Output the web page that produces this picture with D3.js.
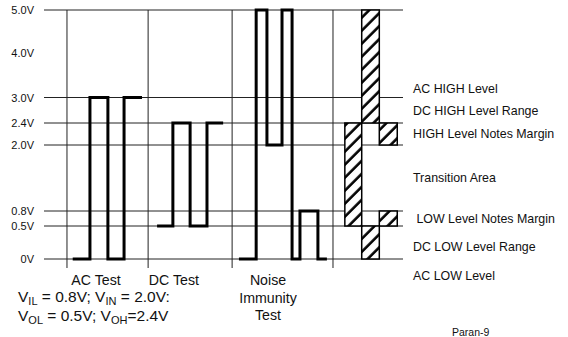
<!DOCTYPE html>
<html>
<head>
<meta charset="utf-8">
<script src="https://cdn.jsdelivr.net/npm/d3@7"></script>
<style>
  html, body { margin: 0; padding: 0; background: #fff; }
  svg { display: block; font-family: "Liberation Sans", Arial, Helvetica, sans-serif; }
</style>
</head>
<body>
<svg id="chart" width="568" height="337"></svg>
<script>
// ---- data ----
const voltTicks  = [0, 0.5, 0.8, 2.0, 2.4, 3.0, 4.0, 5.0];
const voltLabels = ["0V", "0.5V", "0.8V", "2.0V", "2.4V", "3.0V", "4.0V", "5.0V"];
const gridVolts  = [0, 0.5, 0.8, 2.0, 2.4, 3.0, 5.0];

// time positions of column dividers
const dividers = [6.4, 29, 52.4, 80.5];

// waveforms: level changes (time, volts), drawn as steps
const acTimes    = [8, 12.8, 17.8, 22.3, 27.3];
const acVolts    = [0, 3.0, 0, 3.0, 3.0];
const dcTimes    = [31.5, 35.9, 40.7, 45.4, 49.9];
const dcVolts    = [0.5, 2.4, 0.5, 2.4, 2.4];
const noiseTimes = [54.3, 59.1, 62.1, 66.3, 69.1, 71.3, 76.3, 78.8];
const noiseVolts = [0, 5.0, 2.0, 5.0, 0, 0.8, 0, 0];

// hatched level bars
const barT0 = [88.5, 93.4, 83.8, 93.4, 88.5];
const barT1 = [93.4, 98.4, 88.5, 98.4, 93.4];
const barV0 = [2.4, 2.0, 0.5, 0.5, 0];
const barV1 = [5.0, 2.4, 2.4, 0.8, 0.5];

// right side level names
const levelNames = ["AC HIGH Level", "DC HIGH Level Range", "HIGH Level Notes Margin",
                    "Transition Area", " LOW Level Notes Margin", "DC LOW Level Range", "AC LOW Level"];
const levelNameV = [3.2, 2.7, 2.2, 1.4, 0.65, 0.18, -0.25];

// column titles
const colTitles = [["AC Test"], ["DC Test"], ["Noise", "Immunity", "Test"]];
const colCenter = [14.5, 36.2, 62.4];

// ---- scales ----
const svg = d3.select("#chart");
const y = d3.scaleLinear().domain(voltTicks).range([259, 226, 211, 145, 123, 97.5, 53, 10]);
const x = d3.scaleLinear().domain([0, 100]).range([44, 403]);

// ---- hatch pattern ----
const defs = svg.append("defs");
const pat = defs.append("pattern")
  .attr("id", "hatch").attr("patternUnits", "userSpaceOnUse")
  .attr("width", 9.2).attr("height", 9.2)
  .attr("patternTransform", "rotate(45)");
pat.append("rect").attr("width", 9.2).attr("height", 9.2).attr("fill", "#fff");
pat.append("line").attr("x1", 1.5).attr("x2", 1.5).attr("y1", 0).attr("y2", 9.2)
  .attr("stroke", "#000").attr("stroke-width", 2.6);

// ---- gridlines ----
svg.append("g").selectAll("line").data(gridVolts).join("line")
  .attr("x1", x(0)).attr("x2", x(100))
  .attr("y1", d => y(d)).attr("y2", d => y(d))
  .attr("stroke", "#222").attr("stroke-width", 1);

svg.append("g").selectAll("line").data(dividers).join("line")
  .attr("x1", d => x(d)).attr("x2", d => x(d))
  .attr("y1", y(5)).attr("y2", y(0) + 9)
  .attr("stroke", "#222").attr("stroke-width", 1);

// ---- left axis labels ----
const axis = d3.axisLeft(y).tickValues(voltTicks)
  .tickFormat((d, i) => voltLabels[i]).tickSize(0).tickPadding(3);
const ag = svg.append("g").attr("transform", "translate(37,0)").call(axis);
ag.select(".domain").remove();
ag.selectAll("text").attr("font-size", 11).attr("fill", "#111")
  .attr("font-family", "'Liberation Sans', Arial, sans-serif");

// ---- hatched bars ----
svg.append("g").selectAll("rect").data(barT0).join("rect")
  .attr("x", (d, i) => x(barT0[i]))
  .attr("width", (d, i) => x(barT1[i]) - x(barT0[i]))
  .attr("y", (d, i) => y(barV1[i]))
  .attr("height", (d, i) => y(barV0[i]) - y(barV1[i]))
  .attr("fill", "url(#hatch)").attr("stroke", "#000").attr("stroke-width", 1.5);

// ---- waveforms ----
const step = d3.line().x(d => x(d[0])).y(d => y(d[1])).curve(d3.curveStepAfter);
[[acTimes, acVolts], [dcTimes, dcVolts], [noiseTimes, noiseVolts]].forEach(([t, v]) => {
  svg.append("path").datum(t.map((tt, i) => [tt, v[i]]))
    .attr("d", step).attr("fill", "none").attr("stroke", "#000")
    .attr("stroke-width", 3).attr("stroke-linejoin", "miter");
});

// ---- right labels ----
svg.append("g").selectAll("text").data(levelNames).join("text")
  .attr("x", x(100) + 10)
  .attr("y", (d, i) => y(levelNameV[i]))
  .attr("dy", "0.35em")
  .attr("font-size", 12.4).attr("fill", "#111")
  .attr("xml:space", "preserve")
  .style("white-space", "pre")
  .text(d => d);

// ---- column titles ----
colTitles.forEach((lines, ci) => {
  svg.append("text").attr("text-anchor", "middle").attr("font-size", 14.2).attr("fill", "#111")
    .selectAll("tspan").data(lines).join("tspan")
    .attr("x", x(colCenter[ci]))
    .attr("y", (d, i) => 285 + i * 17.5)
    .text(d => d);
});

// ---- bottom-left note ----
const noteLines = [
  [["V", 0], ["IL", 1], [" = 0.8V; V", 0], ["IN", 1], [" = 2.0V:", 0]],
  [["V", 0], ["OL", 1], [" = 0.5V; V", 0], ["OH", 1], ["=2.4V", 0]]
];
noteLines.forEach((parts, li) => {
  const t = svg.append("text").attr("x", 18).attr("y", 302 + li * 19)
    .attr("font-size", 15.5).attr("fill", "#111").attr("xml:space", "preserve")
    .style("white-space", "pre");
  let prevSub = 0;
  parts.forEach(([s, sub]) => {
    t.append("tspan")
      .attr("dy", (sub - prevSub) * 2.5)
      .attr("font-size", sub ? 11 : 15.5)
      .text(s);
    prevSub = sub;
  });
});

// ---- figure id ----
svg.append("text").attr("x", 452).attr("y", 336).attr("font-size", 10.5).attr("fill", "#111").text("Paran-9");
</script>
</body>
</html>
